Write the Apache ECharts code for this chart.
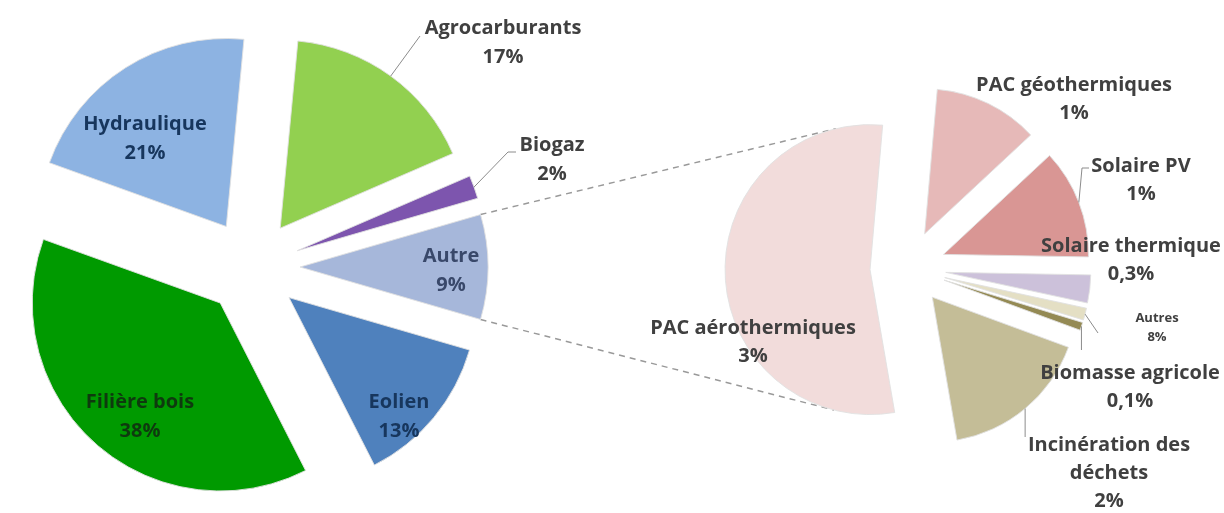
<!DOCTYPE html>
<html>
<head>
<meta charset="utf-8">
<script src="https://cdn.jsdelivr.net/npm/echarts@6/dist/echarts.min.js"></script>
<style>
  html, body { margin: 0; padding: 0; background: #ffffff; }
  #chart { width: 1224px; height: 513px; }
</style>
</head>
<body>
<div id="chart"></div>
<script>
// Renewable energy mix: share of total (%)
const mainNames  = ['Autre', 'Eolien', 'Filière bois', 'Hydraulique', 'Agrocarburants', 'Biogaz'];
const mainValues = [9, 13, 38, 21, 17, 2];

// Breakdown of the "Autre" group (share of total, %)
const subNames  = ['PAC géothermiques', 'Solaire PV', 'Solaire thermique', 'Autres',
                   'Biomasse agricole', 'Incinération des\ndéchets', 'PAC aérothermiques'];
const subValues = [1.05, 1.1, 0.28, 0.12, 0.08, 1.5, 4.87];
// Percentages printed next to each slice of the breakdown
const subShareText = ['1%', '1%', '0,3%', '8%', '0,1%', '2%', '3%'];

// ---- styling / layout ----
const FONT = '"Open Sans", "Noto Sans", sans-serif';
const mainColors = ['#A6B7DA', '#4F81BD', '#009A00', '#8DB3E2', '#92D050', '#7D55AE'];
const mainText   = ['#39486A', '#17365D', '#0E3A0E', '#17365D', '#404040', '#404040'];
const subColors  = ['#E6B9B8', '#D99694', '#CCC1DA', '#E4DFC4', '#948A54', '#C4BD97', '#F2DCDB'];
const subText    = '#404040';

const MAIN = { cx: 252, cy: 267, r: 188, explode: 48, start: 16.2 };
const SUB  = { cx: 908, cy: 268, r: 145, explode: 38, start: 85 };

// label block centres
const mainLabelAt = [[451, 271], [399, 417], [140, 417], [145, 139], [503, 43], [552, 160]];
const subLabelAt  = [[1074, 99], [1141, 180], [1131, 260], [1157, 328], [1130, 387], [1109, 473], [753, 342]];
// leader lines: path from the slice rim to the label (null = no leader)
const mainLeader = [null, null, null, null, { to: [[420, 36]] }, { to: [[508, 152], [516, 152]] }];
const subLeader  = [null, { to: [[1082, 168], [1089, 168]] }, null, { to: [[1098, 333]] },
                    { downTo: 350 }, { downTo: 437 }, null];

const chart = echarts.init(document.getElementById('chart'), null, { renderer: 'canvas' });

// Slice geometry (screen angles in radians, clockwise from 3 o'clock) and exploded origin
function sliceGeom(values, P, idx) {
  const total = values.reduce((a, b) => a + b, 0);
  let a0 = -P.start;
  for (let i = 0; i < idx; i++) a0 += values[i] / total * 360;
  const a1 = a0 + values[idx] / total * 360;
  const r0 = a0 * Math.PI / 180, r1 = a1 * Math.PI / 180, mid = (r0 + r1) / 2;
  return {
    a0: r0, a1: r1, mid,
    ox: P.cx + P.explode * Math.cos(mid),
    oy: P.cy + P.explode * Math.sin(mid)
  };
}
function rimPoint(g, P, ang) {
  return [g.ox + P.r * Math.cos(ang), g.oy + P.r * Math.sin(ang)];
}

// Series lines joining the "Autre" slice to the breakdown pie (tangent to it)
function connectorLines() {
  const g = sliceGeom(mainValues, MAIN, 0);
  const p1 = rimPoint(g, MAIN, g.a0);
  const p2 = rimPoint(g, MAIN, g.a1);
  const h = sliceGeom(subValues, SUB, subValues.length - 1);
  const c = [h.ox, h.oy];
  function tangent(p, upper) {
    const dx = p[0] - c[0], dy = p[1] - c[1];
    const d = Math.hypot(dx, dy);
    const beta = Math.atan2(dy, dx), alpha = Math.acos(SUB.r / d);
    const t1 = [c[0] + SUB.r * Math.cos(beta + alpha), c[1] + SUB.r * Math.sin(beta + alpha)];
    const t2 = [c[0] + SUB.r * Math.cos(beta - alpha), c[1] + SUB.r * Math.sin(beta - alpha)];
    return upper ? (t1[1] < t2[1] ? t1 : t2) : (t1[1] > t2[1] ? t1 : t2);
  }
  const q1 = tangent(p1, true), q2 = tangent(p2, false);
  const style = { stroke: '#999999', lineWidth: 1.5, lineDash: [6, 5] };
  return [
    { type: 'line', z: 0, shape: { x1: p1[0], y1: p1[1], x2: q1[0], y2: q1[1] }, style },
    { type: 'line', z: 0, shape: { x1: p2[0], y1: p2[1], x2: q2[0], y2: q2[1] }, style }
  ];
}

function leaderLines(values, P, leaders) {
  const out = [];
  leaders.forEach((L, i) => {
    if (!L) return;
    const g = sliceGeom(values, P, i);
    const s = rimPoint(g, P, g.mid);
    const pts = [s].concat(L.to ? L.to : [[s[0], L.downTo]]);
    out.push({
      type: 'polyline', z: 5,
      shape: { points: pts },
      style: { stroke: '#8C8C8C', lineWidth: 1, fill: null }
    });
  });
  return out;
}

function textBlock(txt, at, color, size, lh) {
  return {
    type: 'text', z: 10,
    x: at[0], y: at[1],
    style: {
      text: txt, fill: color,
      fontFamily: FONT, fontWeight: 'bold', fontSize: size, lineHeight: lh,
      align: 'center', verticalAlign: 'middle'
    }
  };
}

const labels = [];
mainNames.forEach((n, i) => {
  labels.push(textBlock(n + '\n' + mainValues[i] + '%', mainLabelAt[i], mainText[i], 20, 29));
});
subNames.forEach((n, i) => {
  const small = n === 'Autres';
  labels.push(textBlock(n + '\n' + subShareText[i], subLabelAt[i], subText,
    small ? 13 : 20, small ? 19 : 28));
});

const pieBase = {
  type: 'pie',
  clockwise: true,
  selectedMode: 'multiple',
  avoidLabelOverlap: false,
  emphasis: { disabled: true },
  label: { show: false },
  labelLine: { show: false }
};

// thin light rim around every slice
const rim = { borderColor: 'rgba(225,225,225,0.9)', borderWidth: 1 };

chart.setOption({
  backgroundColor: '#ffffff',
  animation: false,
  graphic: { elements: connectorLines()
      .concat(leaderLines(mainValues, MAIN, mainLeader))
      .concat(leaderLines(subValues, SUB, subLeader))
      .concat(labels) },
  series: [
    Object.assign({}, pieBase, {
      center: [MAIN.cx, MAIN.cy],
      radius: MAIN.r,
      startAngle: MAIN.start,
      selectedOffset: MAIN.explode,
      data: mainNames.map((n, i) => ({
        name: n, value: mainValues[i], selected: true,
        itemStyle: Object.assign({ color: mainColors[i] }, rim)
      }))
    }),
    Object.assign({}, pieBase, {
      center: [SUB.cx, SUB.cy],
      radius: SUB.r,
      startAngle: SUB.start,
      selectedOffset: SUB.explode,
      data: subNames.map((n, i) => ({
        name: n, value: subValues[i], selected: true,
        itemStyle: Object.assign({ color: subColors[i] }, rim)
      }))
    })
  ]
});
</script>
</body>
</html>
